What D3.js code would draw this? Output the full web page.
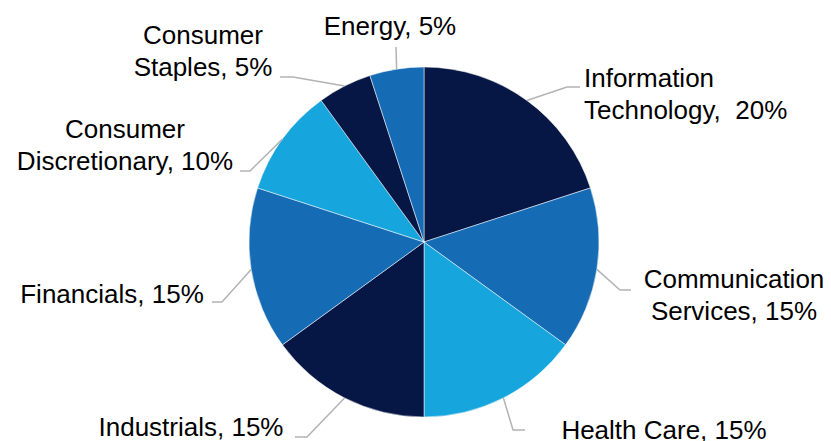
<!DOCTYPE html>
<html>
<head>
<meta charset="utf-8">
<script src="https://cdn.jsdelivr.net/npm/d3@7"></script>
<style>
  body { margin: 0; background: #fff; }
  svg text { font-family: "Liberation Sans", Arial, sans-serif; font-size: 26px; fill: #000; white-space: pre; }
</style>
</head>
<body>
<div id="pie"></div>
<script>
// sector weights, clockwise from 12 o'clock
const sectors = ["Information Technology", "Communication Services", "Health Care", "Industrials",
  "Financials", "Consumer Discretionary", "Consumer Staples", "Energy"];
const weights = [20, 15, 15, 15, 15, 10, 5, 5];
// label text lines as shown on the chart
const labelLines = [
  ["Information", "Technology,  20%"],
  ["Communication", "Services, 15%"],
  ["Health Care, 15%"],
  ["Industrials, 15%"],
  ["Financials, 15%"],
  ["Consumer", "Discretionary, 10%"],
  ["Consumer", "Staples, 5%"],
  ["Energy, 5%"]
];

const colors = ["#061746", "#166bb5", "#17a5dd"];

const width = 831, height = 441;
const cx = 424, cy = 242, radius = 175;

// label placement (leader elbow/end, text anchor) - hand tuned like the original
const labelLayout = [
  { elbow: [567, 87], end: [580, 87], tx: 584, ty: 87, anchor: "start" },
  { elbow: [620, 290], end: [631, 290], tx: 734, ty: 288, anchor: "middle" },
  { elbow: [513, 430], end: [525, 430], tx: 664, ty: 439, anchor: "middle" },
  { elbow: [307, 437], end: [295, 437], tx: 191, ty: 436, anchor: "middle" },
  { elbow: [222, 302], end: [212, 302], tx: 112, ty: 303, anchor: "middle" },
  { elbow: [250, 171], end: [240, 171], tx: 125, ty: 138, anchor: "middle" },
  { elbow: [293, 77], end: [280, 77], tx: 203, ty: 44, anchor: "middle" },
  { elbow: [396, 47], end: [396, 47], tx: 390, ty: 35, anchor: "middle" }
];

const svg = d3.select("#pie")
  .append("svg")
  .attr("width", width)
  .attr("height", height);

const data = sectors.map((s, i) => ({ sector: s, value: weights[i], i: i }));

const pie = d3.pie().value(d => d.value).sort(null);
const arc = d3.arc().innerRadius(0).outerRadius(radius);

const g = svg.append("g").attr("transform", `translate(${cx},${cy})`);

const arcs = pie(data);

g.selectAll("path")
  .data(arcs)
  .join("path")
  .attr("d", arc)
  .attr("fill", d => colors[d.data.i % 3])
  .attr("stroke", "#ffffff")
  .attr("stroke-width", 0.5);

// leader lines start on the rim at the middle of each slice
const leaders = svg.append("g");
arcs.forEach((d, i) => {
  const a = (d.startAngle + d.endAngle) / 2;
  const start = [cx + radius * Math.sin(a), cy - radius * Math.cos(a)];
  const lay = labelLayout[i];
  leaders.append("polyline")
    .attr("points", [start, lay.elbow, lay.end].map(p => p.join(",")).join(" "))
    .attr("fill", "none")
    .attr("stroke", "#b3b3b3")
    .attr("stroke-width", 1.5);
});

// labels
const labels = svg.append("g");
labelLines.forEach((lines, i) => {
  const lay = labelLayout[i];
  const t = labels.append("text")
    .attr("text-anchor", lay.anchor);
  lines.forEach((line, j) => {
    t.append("tspan")
      .attr("x", lay.tx)
      .attr("y", lay.ty + j * 31.5)
      .text(line);
  });
});
</script>
</body>
</html>
